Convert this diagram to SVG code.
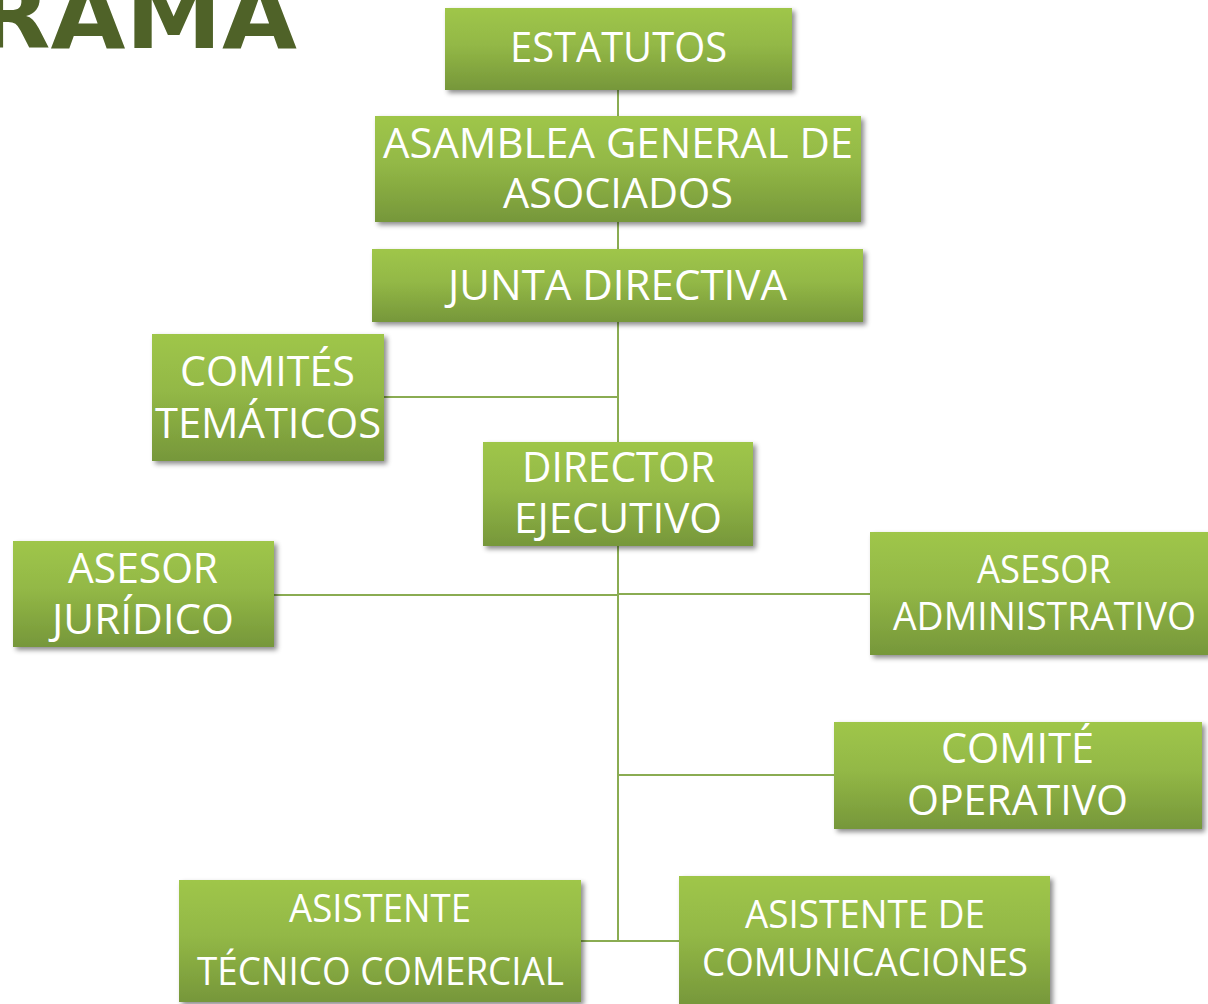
<svg xmlns="http://www.w3.org/2000/svg" width="1208" height="1004" viewBox="0 0 1208 1004">
<defs>
<linearGradient id="g" x1="0" y1="0" x2="0" y2="1">
<stop offset="0" stop-color="#9fc64a"/>
<stop offset="0.45" stop-color="#93b846"/>
<stop offset="1" stop-color="#76973a"/>
</linearGradient>
<filter id="sh" x="-10%" y="-10%" width="125%" height="130%">
<feDropShadow dx="3" dy="3" stdDeviation="2.5" flood-color="#000" flood-opacity="0.45"/>
</filter>
</defs>
<style>
.box{fill:url(#g);filter:url(#sh)}
.t{font-family:"Open Sans","Noto Sans",sans-serif;font-size:42px;fill:#fff;text-anchor:middle}
.s{font-size:38px}
.c{stroke:#8aac52;stroke-width:2;fill:none}
.title{font-family:"DejaVu Sans",sans-serif;font-weight:bold;font-size:92px;fill:#4f6228}
</style>
<rect width="1208" height="1004" fill="#fff"/>
<text class="title" x="-24" y="48" textLength="321" lengthAdjust="spacingAndGlyphs">RAMA</text>
<g id="connectors">
<line class="c" x1="618" y1="90" x2="618" y2="941"/>
<line class="c" x1="384" y1="397" x2="618" y2="397"/>
<line class="c" x1="274" y1="595" x2="618" y2="595"/>
<line class="c" x1="618" y1="594" x2="870" y2="594"/>
<line class="c" x1="618" y1="775" x2="834" y2="775"/>
<line class="c" x1="581" y1="941" x2="679" y2="941"/>
</g>
<g id="estatutos"><rect class="box" x="445" y="8" width="347" height="82"/>
<text class="t" x="618.5" y="62" textLength="217" lengthAdjust="spacingAndGlyphs">ESTATUTOS</text></g>
<g id="asamblea"><rect class="box" x="375" y="116" width="486" height="106"/>
<text class="t" x="618" y="158" textLength="470" lengthAdjust="spacingAndGlyphs">ASAMBLEA GENERAL DE</text>
<text class="t" x="618" y="208" textLength="230" lengthAdjust="spacingAndGlyphs">ASOCIADOS</text></g>
<g id="junta"><rect class="box" x="372" y="249" width="491" height="73"/>
<text class="t" x="617.5" y="300" textLength="339" lengthAdjust="spacingAndGlyphs">JUNTA DIRECTIVA</text></g>
<g id="comites"><rect class="box" x="152" y="334" width="232" height="127"/>
<text class="t" x="267.5" y="386" textLength="175" lengthAdjust="spacingAndGlyphs">COMITÉS</text>
<text class="t" x="268" y="438" textLength="226" lengthAdjust="spacingAndGlyphs">TEMÁTICOS</text></g>
<g id="director"><rect class="box" x="483" y="442" width="270" height="104"/>
<text class="t" x="618.5" y="482" textLength="193" lengthAdjust="spacingAndGlyphs">DIRECTOR</text>
<text class="t" x="618" y="533" textLength="208" lengthAdjust="spacingAndGlyphs">EJECUTIVO</text></g>
<g id="juridico"><rect class="box" x="13" y="541" width="261" height="106"/>
<text class="t" x="143" y="583" textLength="150" lengthAdjust="spacingAndGlyphs">ASESOR</text>
<text class="t" x="143" y="634" textLength="182" lengthAdjust="spacingAndGlyphs">JURÍDICO</text></g>
<g id="administrativo"><rect class="box" x="870" y="532" width="338" height="123"/>
<text class="t s" x="1044" y="583" textLength="134" lengthAdjust="spacingAndGlyphs">ASESOR</text>
<text class="t s" x="1044.5" y="630" textLength="303" lengthAdjust="spacingAndGlyphs">ADMINISTRATIVO</text></g>
<g id="operativo"><rect class="box" x="834" y="722" width="368" height="107"/>
<text class="t" x="1017.5" y="763" textLength="153" lengthAdjust="spacingAndGlyphs">COMITÉ</text>
<text class="t" x="1017.5" y="815" textLength="221" lengthAdjust="spacingAndGlyphs">OPERATIVO</text></g>
<g id="tecnico"><rect class="box" x="179" y="880" width="402" height="122"/>
<text class="t s" x="380" y="922" textLength="182" lengthAdjust="spacingAndGlyphs">ASISTENTE</text>
<text class="t s" x="380.5" y="985" textLength="367" lengthAdjust="spacingAndGlyphs">TÉCNICO COMERCIAL</text></g>
<g id="comunicaciones"><rect class="box" x="679" y="876" width="371" height="130"/>
<text class="t s" x="865" y="928" textLength="240" lengthAdjust="spacingAndGlyphs">ASISTENTE DE</text>
<text class="t s" x="865" y="976" textLength="326" lengthAdjust="spacingAndGlyphs">COMUNICACIONES</text></g>
</svg>
